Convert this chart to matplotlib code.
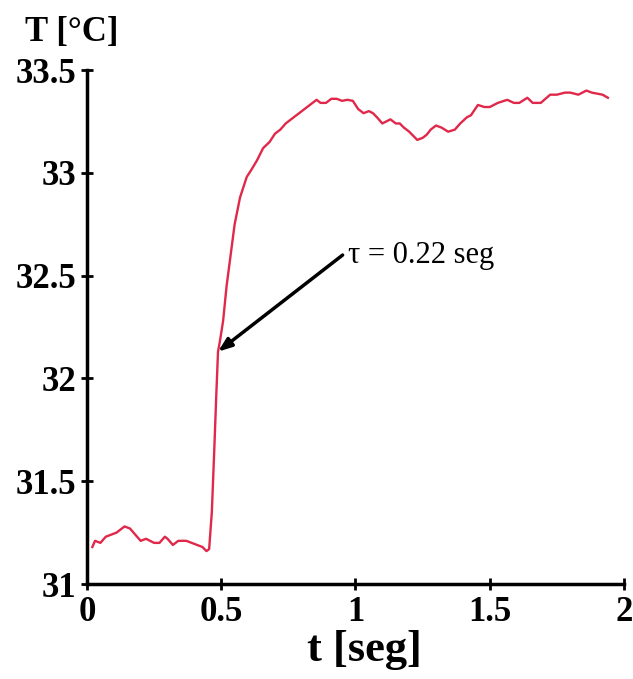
import matplotlib
matplotlib.use("Agg")
import matplotlib.pyplot as plt

# Data
t = [0.02, 0.03, 0.05, 0.07, 0.09, 0.11, 0.14, 0.16, 0.18, 0.20, 0.22, 0.25, 0.27,
     0.29, 0.30, 0.32, 0.34, 0.37, 0.39, 0.41, 0.43, 0.445, 0.455,
     0.465, 0.474, 0.481, 0.488, 0.495, 0.507, 0.52, 0.533, 0.55, 0.57, 0.595,
     0.61, 0.633, 0.656, 0.68, 0.70, 0.72, 0.74, 0.76, 0.79, 0.81, 0.83, 0.855,
     0.87, 0.89, 0.91, 0.93, 0.95, 0.97, 0.99, 1.01, 1.03, 1.05, 1.065, 1.08,
     1.10, 1.13, 1.15, 1.165, 1.18, 1.20, 1.215, 1.23, 1.25, 1.265, 1.28, 1.30,
     1.32, 1.345, 1.37, 1.39, 1.415, 1.43, 1.456, 1.48, 1.50, 1.53, 1.565, 1.59,
     1.61, 1.64, 1.66, 1.69, 1.725, 1.75, 1.78, 1.80, 1.83, 1.86, 1.88, 1.90,
     1.92, 1.94]
T = [31.18, 31.21, 31.20, 31.23, 31.24, 31.25, 31.28, 31.27, 31.24, 31.21, 31.22, 31.20, 31.20,
     31.23, 31.22, 31.19, 31.21, 31.21, 31.20, 31.19, 31.18, 31.16, 31.17,
     31.35, 31.65, 31.90, 32.13, 32.18, 32.28, 32.45, 32.58, 32.75, 32.88, 32.98,
     33.01, 33.06, 33.12, 33.15, 33.19, 33.21, 33.24, 33.26, 33.29, 33.31, 33.33, 33.355,
     33.34, 33.34, 33.36, 33.36, 33.35, 33.355, 33.35, 33.31, 33.29, 33.30, 33.29, 33.27,
     33.24, 33.26, 33.24, 33.24, 33.22, 33.20, 33.18, 33.16, 33.17, 33.185, 33.21, 33.23,
     33.22, 33.20, 33.21, 33.24, 33.27, 33.28, 33.33, 33.32, 33.32, 33.34, 33.355, 33.34,
     33.34, 33.365, 33.34, 33.34, 33.38, 33.38, 33.39, 33.39, 33.38, 33.40, 33.39, 33.385,
     33.38, 33.365]

xticks = [0, 0.5, 1, 1.5, 2]
xticklabels = ["0", "0.5", "1", "1.5", "2"]
yticks = [31, 31.5, 32, 32.5, 33, 33.5]
yticklabels = ["31", "31.5", "32", "32.5", "33", "33.5"]

annot_text = "τ = 0.22 seg"
annot_xy = (0.488, 32.13)
annot_tail = (0.952, 32.60)
annot_text_xy = (0.972, 32.60)

serif = ["Liberation Serif", "DejaVu Serif"]

fig = plt.figure(figsize=(6.33, 6.79), dpi=100)
ax = fig.add_axes([0.1374, 0.1399, 0.8484, 0.757])

ax.plot(t, T, color="#e0284a", lw=1.7)

ax.set_xlim(0, 2)
ax.set_ylim(31, 33.5)
ax.set_xticks(xticks)
ax.set_xticklabels(xticklabels, fontfamily=serif, fontweight="bold", fontsize=25)
ax.set_yticks(yticks)
ax.set_yticklabels(yticklabels, fontfamily=serif, fontweight="bold", fontsize=25)
ax.tick_params(direction="inout", length=9, width=2, pad=3)
ax.tick_params(axis="x", pad=4)

for s in ["top", "right"]:
    ax.spines[s].set_visible(False)
for s in ["left", "bottom"]:
    ax.spines[s].set_linewidth(2.5)

ax.annotate("", xy=annot_xy, xytext=annot_tail,
            arrowprops=dict(arrowstyle="-|>,head_length=0.8,head_width=0.3",
                            color="black", lw=2.5, shrinkA=0, shrinkB=0))
ax.text(annot_text_xy[0], annot_text_xy[1], annot_text, fontfamily=serif,
        fontsize=22, va="center", ha="left")

fig.text(72 / 633, 1 - 32 / 679, "T [°C]", fontfamily=serif, fontweight="bold",
         fontsize=25, ha="center", va="center")
fig.text(364 / 633, 1 - 650 / 679, "t [seg]", fontfamily=serif, fontweight="bold",
         fontsize=32, ha="center", va="center")

fig.savefig("out.png", dpi=100, facecolor="white")
